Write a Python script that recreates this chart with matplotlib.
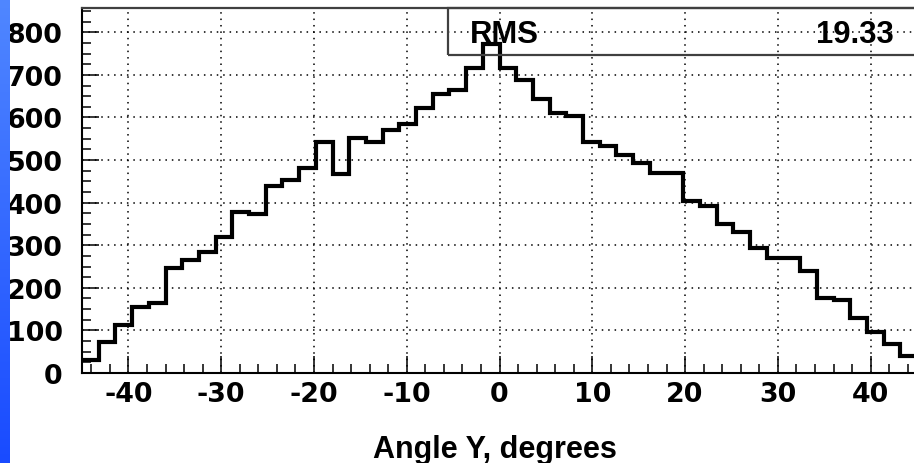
import numpy as np
import matplotlib
matplotlib.use("Agg")
import matplotlib.pyplot as plt
from matplotlib.ticker import MultipleLocator
from matplotlib.patches import Rectangle

plt.rcParams["axes.unicode_minus"] = False

# ---- data ----
bin_counts = [30, 72, 113, 154, 164, 247, 266, 285, 320, 378,
              373, 440, 454, 481, 542, 467, 551, 542, 570, 585,
              622, 656, 665, 715, 773, 715, 689, 643, 610, 604,
              543, 534, 513, 493, 470, 470, 405, 393, 350, 332,
              293, 271, 271, 240, 177, 171, 130, 97, 67, 40]
x_min, x_max = -45.0, 45.0
n_bins = 50
x_ticks = [-40, -30, -20, -10, 0, 10, 20, 30, 40]
y_ticks = [0, 100, 200, 300, 400, 500, 600, 700, 800]
stat_name = "RMS"
stat_value = "19.33"
x_label = "Angle Y, degrees"

W, H = 914, 464
fig = plt.figure(figsize=(W / 100, H / 100), dpi=100)
fig.patch.set_facecolor("white")

# axes in pixel geometry
L, R, B, T = 82, 917, 374, 9
ax = fig.add_axes([L / W, (H - B) / H, (R - L) / W, (B - T) / H])
ax.set_xlim(x_min, x_max)
ax.set_ylim(0, 857)

edges = np.linspace(x_min, x_max, n_bins + 1)
ax.stairs(bin_counts, edges, baseline=None, color="black", linewidth=3.0, zorder=3)

ax.set_xticks(x_ticks)
ax.set_yticks(y_ticks)
ax.xaxis.set_minor_locator(MultipleLocator(2))
ax.yaxis.set_minor_locator(MultipleLocator(25))
ax.tick_params(which="major", direction="in", length=12.2, width=1.1, color="black",
               top=False, right=False, labelsize=19.4)
ax.tick_params(which="minor", direction="in", length=6.5, width=1.1, color="black",
               top=False, right=False)
ax.tick_params(axis="x", which="major", pad=6)
ax.tick_params(axis="y", which="major", pad=14)
for lab in ax.get_xticklabels() + ax.get_yticklabels():
    lab.set_fontfamily("DejaVu Sans")
    lab.set_fontweight("bold")

ax.grid(True, which="major", color="black", linewidth=1.1, linestyle=(0, (1, 3.2)))
ax.set_axisbelow(True)

for s in ["left", "bottom"]:
    ax.spines[s].set_linewidth(1.5)
    ax.spines[s].set_color("black")
ax.spines["top"].set_linewidth(1.6)
ax.spines["top"].set_color("#404040")
ax.spines["right"].set_visible(False)

# stats box (transparent)
bx0, by0, by1 = 448, 56, 9
box = Rectangle((bx0 / W, (H - by0) / H), (W + 20 - bx0) / W, (by0 - by1) / H,
                transform=fig.transFigure, fill=False, edgecolor="#404040",
                linewidth=1.6, zorder=5)
fig.add_artist(box)
fig.text(470 / W, (H - 43) / H, stat_name, ha="left", va="baseline",
         fontfamily="Liberation Sans", fontweight="bold", fontsize=22.3, zorder=6)
fig.text(894 / W, (H - 43) / H, stat_value, ha="right", va="baseline",
         fontfamily="Liberation Sans", fontweight="bold", fontsize=22.3, zorder=6)

# x-axis title
fig.text(495 / W, (H - 458) / H, x_label, ha="center", va="baseline",
         fontfamily="Liberation Sans", fontweight="bold", fontsize=22.0)

# blue gradient strip on the left
sax = fig.add_axes([0, 0, 10 / W, 1], zorder=10)
top_c = np.array([80, 135, 255]) / 255
bot_c = np.array([25, 75, 255]) / 255
t = np.linspace(0, 1, 256)[:, None]
grad = (top_c[None, :] * (1 - t) + bot_c[None, :] * t)[:, None, :]
sax.imshow(grad, aspect="auto", extent=[0, 1, 0, 1])
sax.set_axis_off()

fig.savefig("out.png", dpi=100)
